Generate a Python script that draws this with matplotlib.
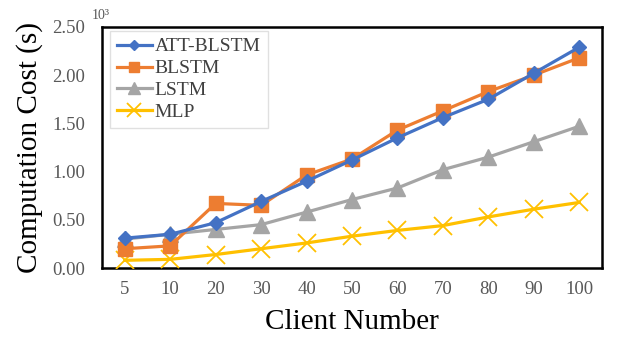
import matplotlib
matplotlib.use("Agg")
import matplotlib.pyplot as plt
import numpy as np

clients = ["5", "10", "20", "30", "40", "50", "60", "70", "80", "90", "100"]
att_blstm = [0.31, 0.35, 0.47, 0.69, 0.90, 1.12, 1.35, 1.56, 1.75, 2.02, 2.29]
blstm = [0.20, 0.23, 0.67, 0.65, 0.965, 1.13, 1.43, 1.63, 1.83, 2.00, 2.18]
lstm = [0.30, 0.35, 0.40, 0.45, 0.58, 0.71, 0.83, 1.02, 1.15, 1.31, 1.47]
mlp = [0.08, 0.09, 0.14, 0.20, 0.26, 0.33, 0.39, 0.44, 0.53, 0.61, 0.68]
yticks = [0.0, 0.5, 1.0, 1.5, 2.0, 2.5]

plt.rcParams['font.family'] = ['Liberation Serif', 'DejaVu Serif']

fig = plt.figure(figsize=(6.31, 3.41), dpi=100)
ax = fig.add_axes([0.1617, 0.214, 0.7923, 0.707])
x = np.arange(len(clients))

ax.plot(x, mlp, color='#FFC000', lw=2.3, marker='x', ms=13, mew=1.3, label='MLP', zorder=3)
ax.plot(x, lstm, color='#A5A5A5', lw=2.3, marker='^', ms=11, label='LSTM', zorder=4)
ax.plot(x, blstm, color='#ED7D31', lw=2.3, marker='s', ms=10, label='BLSTM', zorder=5)
ax.plot(x, att_blstm, color='#4472C4', lw=2.3, marker='D', ms=7, label='ATT-BLSTM', zorder=6)

ax.set_xlim(-0.5, len(clients) - 0.5)
ax.set_ylim(0, 2.5)
ax.set_xticks(x)
ax.set_xticklabels(clients)
ax.set_yticks(yticks)
ax.set_yticklabels([f"{v:.2f}" for v in yticks])
ax.tick_params(length=0, labelsize=13.5, colors='#595959')
ax.tick_params(axis='x', pad=9)
ax.tick_params(axis='y', pad=12)
for s in ax.spines.values():
    s.set_linewidth(1.8)
    s.set_color('black')

ax.set_xlabel('Client Number', fontsize=21, labelpad=8)
ax.set_ylabel('Computation Cost (s)', fontsize=21, labelpad=7)
fig.text(0.146, 0.955, '10³', fontsize=10, color='#595959', ha='left', va='center')

h, l = ax.get_legend_handles_labels()
order = [3, 2, 1, 0]
leg = ax.legend([h[i] for i in order], [l[i] for i in order], loc='upper left',
                bbox_to_anchor=(0.016, 0.983), borderaxespad=0, fontsize=14, frameon=True,
                fancybox=False, edgecolor='#D9D9D9', handlelength=1.8, handletextpad=0.15,
                labelspacing=0.22, borderpad=0.35, markerscale=0.75)
leg.get_frame().set_linewidth(1.0)
for t in leg.get_texts():
    t.set_color('#404040')

fig.savefig('out.png', dpi=100)
